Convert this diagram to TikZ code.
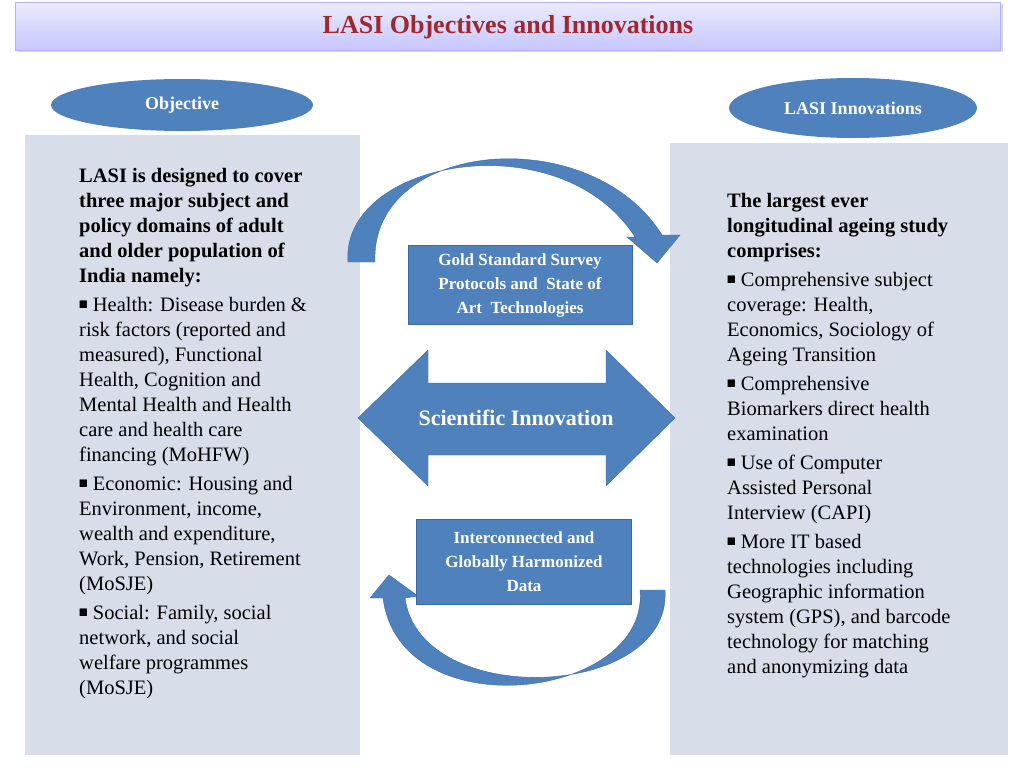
\documentclass[tikz,border=0pt]{standalone}
\usepackage{fontspec}
\usepackage{amssymb}
\setmainfont{Liberation Serif}
\usetikzlibrary{shapes.geometric,shadows}
\definecolor{bluef}{HTML}{4F81BD}
\definecolor{blued}{HTML}{3A6AA6}
\definecolor{panel}{HTML}{D7DEE9}
\definecolor{titler}{HTML}{A0282C}
\newcommand{\sqb}{{\fontsize{11}{11}\selectfont\raisebox{3pt}{$\blacksquare$}}}
\begin{document}
\begin{tikzpicture}[x=1pt,y=-1pt,
  cbox/.style={draw=blued,fill=bluef,text=white,align=center,font=\bfseries\fontsize{17}{24}\selectfont,line width=1pt},
  body/.style={anchor=north west,align=left,font=\fontsize{20.5}{25}\selectfont,inner sep=0pt},
  arr/.style={fill=bluef,draw=blued}]
\useasboundingbox (0,0) rectangle (1024,768);
\fill[white] (0,0) rectangle (1024,768);
\node[draw=blue!30,top color=blue!8,bottom color=blue!22,minimum width=985,minimum height=48,anchor=north west,drop shadow={opacity=0.3}] (title) at (15,2) {};
\node[text=titler,font=\bfseries\fontsize{26}{28}\selectfont] (ttext) at (508,27) {LASI Objectives and Innovations};
\fill[panel] (25,135) rectangle (360,755);
\fill[panel] (670,143) rectangle (1008,755);
\node[ellipse,fill=bluef,minimum width=262,minimum height=52,text=white,font=\bfseries\fontsize{18}{20}\selectfont] (obj) at (182,105) {\raisebox{4pt}{Objective}};
\node[ellipse,fill=bluef,minimum width=248,minimum height=60,text=white,font=\bfseries\fontsize{18}{20}\selectfont] (inn) at (853,108) {LASI Innovations};
\node[body] (lt) at (79,168) {\textbf{LASI is designed to cover}\\\textbf{three major subject and}\\\textbf{policy domains of adult}\\\textbf{and older population of}\\\textbf{India namely:}\\[4pt]
\sqb{} Health: Disease burden \&\\risk factors (reported and\\measured), Functional\\Health, Cognition and\\Mental Health and Health\\care and health care\\financing (MoHFW)\\[4pt]
\sqb{} Economic: Housing and\\Environment, income,\\wealth and expenditure,\\Work, Pension, Retirement\\(MoSJE)\\[4pt]
\sqb{} Social: Family, social\\network, and social\\welfare programmes\\(MoSJE)};
\node[body] (rt) at (727,193) {\textbf{The largest ever}\\\textbf{longitudinal ageing study}\\\textbf{comprises:}\\[4pt]
\sqb{} Comprehensive subject\\coverage: Health,\\Economics, Sociology of\\Ageing Transition\\[4pt]
\sqb{} Comprehensive\\Biomarkers direct health\\examination\\[4pt]
\sqb{} Use of Computer\\Assisted Personal\\Interview (CAPI)\\[4pt]
\sqb{} More IT based\\technologies including\\Geographic information\\system (GPS), and barcode\\technology for matching\\and anonymizing data};
% curved arrows
\path[arr] (348,262) .. controls (340,160) and (560,120) .. (635,237) -- (627,237) -- (657,263) -- (680,235) -- (662,235) .. controls (590,120) and (370,140) .. (375,262) -- cycle;
\path[arr] (665,590) .. controls (672,700) and (420,710) .. (405,598) -- (418,596) -- (389,575) -- (370,598) -- (383,598) .. controls (400,730) and (650,700) .. (640,590) -- cycle;
\node[cbox,minimum width=224,minimum height=79] (gold) at (520,285) {Gold Standard Survey\\Protocols and\ \ State of\\Art\ \ Technologies};
\node[cbox,minimum width=215,minimum height=85] (inter) at (524,562) {Interconnected and\\Globally Harmonized\\Data};
\path[arr] (358,418) -- (428,350) -- (428,383) -- (606,383) -- (606,350) -- (675,418) -- (606,486) -- (606,455) -- (428,455) -- (428,486) -- cycle;
\node[text=white,font=\bfseries\fontsize{22}{24}\selectfont] (sci) at (516,418) {Scientific Innovation};
\end{tikzpicture}
\end{document}
